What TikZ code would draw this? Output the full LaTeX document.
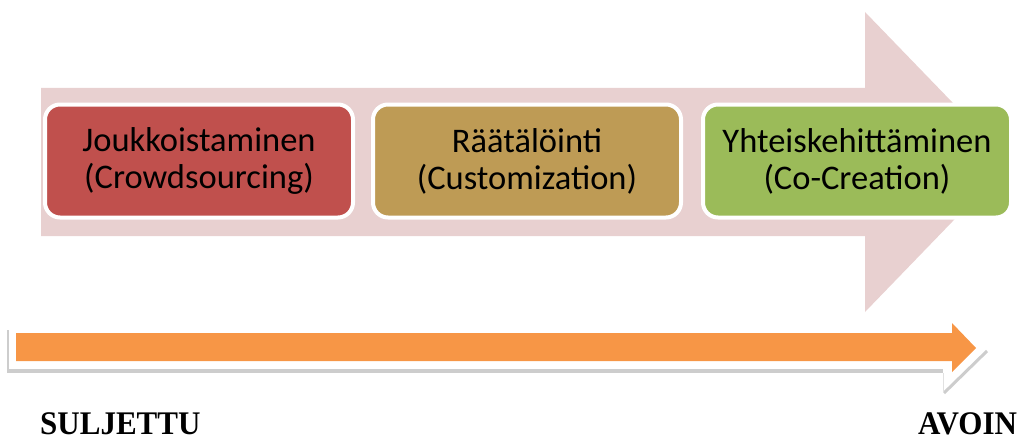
\documentclass[tikz,border=0pt]{standalone}
\usepackage{graphicx}
\usepackage{fontspec}
\setmainfont{Carlito}
\newfontfamily\tnrfont{Liberation Serif}
\definecolor{pinkarrow}{RGB}{232,208,208}
\definecolor{boxred}{RGB}{192,80,77}
\definecolor{boxtan}{RGB}{190,155,85}
\definecolor{boxgreen}{RGB}{155,187,89}
\definecolor{orangearrow}{RGB}{247,150,70}
\definecolor{shadowgray}{RGB}{205,205,205}
\begin{document}
\begin{tikzpicture}[x=1pt,y=-1pt,
  stagebox/.style={draw=white,line width=4pt,rounded corners=15pt,
    minimum width=308pt,minimum height=113pt,inner sep=0pt,align=center,
    font=\fontsize{34.5}{37}\selectfont,text=black},
  endlabel/.style={anchor=base west,inner sep=0pt,font=\tnrfont\bfseries\fontsize{33}{36}\selectfont}]
\useasboundingbox (0,0) rectangle (1026,444);
% big pink arrow
\fill[pinkarrow] (41,88) -- (865,88) -- (865,12) -- (1010,162) -- (865,312) -- (865,236) -- (41,236) -- cycle;
% boxes
\node[stagebox,fill=boxred] (crowd) at (199,161) {Joukkoistaminen\\(Crowdsourcing)};
\node[stagebox,fill=boxtan] (custom) at (527,161) {Räätälöinti\\(Customization)};
\node[stagebox,fill=boxgreen] (cocreate) at (857,161) {Yhteiskehittäminen\\(Co-Creation)};
% orange arrow shadow
\draw[shadowgray,line width=1.5pt] (8,330) -- (8,371);
\draw[shadowgray,line width=4pt] (7,371) -- (943,371);
\draw[shadowgray,line width=3pt] (944,393) -- (987,351);
\draw[shadowgray!60,line width=0.6pt] (943,373) -- (943,393);
% orange arrow
\fill[orangearrow] (16,333) -- (952,333) -- (952,323) -- (976,348) -- (952,372) -- (952,361) -- (16,361) -- cycle;
% end labels
\node[endlabel] (closed) at (40,434) {\scalebox{0.94}[1]{SULJETTU}};
\node[endlabel] (open) at (918,434) {\scalebox{0.94}[1]{AVOIN}};
\end{tikzpicture}
\end{document}
